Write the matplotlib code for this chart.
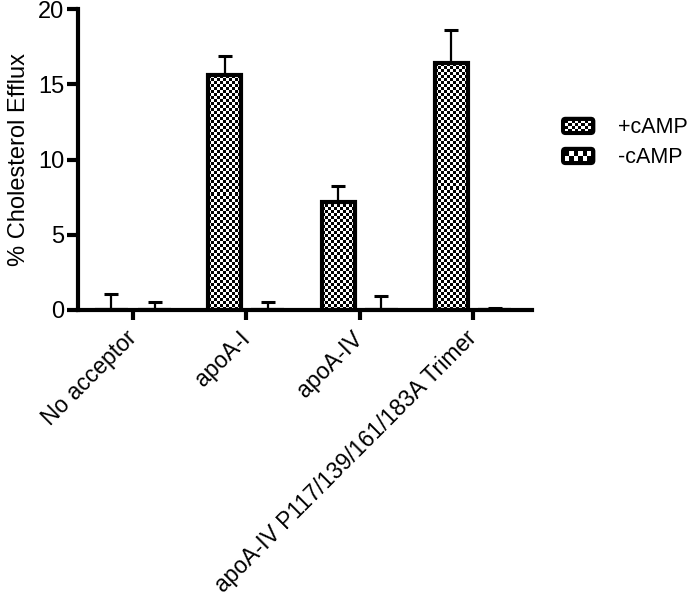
import numpy as np
import matplotlib
matplotlib.use("Agg")
import matplotlib.pyplot as plt
from matplotlib.patches import Rectangle, FancyBboxPatch, Patch
from matplotlib.legend_handler import HandlerBase

plt.rcParams["font.family"] = ["Liberation Sans", "DejaVu Sans"]
plt.rcParams["font.size"] = 17

# data
categories = ["No acceptor", "apoA-I", "apoA-IV", "apoA-IV P117/139/161/183A Trimer"]
plus_camp = [0.0, 15.6, 7.2, 16.4]
plus_err = [1.05, 1.3, 1.05, 2.25]
minus_camp = [0.0, 0.0, 0.0, 0.0]
minus_err = [0.55, 0.5, 0.95, 0.1]


class CheckerHandler(HandlerBase):
    """legend box drawn as a black rounded box with white checks"""

    def __init__(self, nx, ny):
        super().__init__()
        self.nx = nx
        self.ny = ny

    def create_artists(self, legend, orig_handle, xdescent, ydescent,
                       width, height, fontsize, trans):
        x0, y0 = -xdescent, -ydescent
        arts = [FancyBboxPatch((x0, y0), width, height,
                               boxstyle="round,pad=0,rounding_size=2.5",
                               fc="black", ec="black", lw=1.5, transform=trans)]
        m = 0.18 * height
        cw = (width - 2 * m) / self.nx
        ch = (height - 2 * m) / self.ny
        for i in range(self.nx):
            for j in range(self.ny):
                if (i + j) % 2 == 0:
                    arts.append(Rectangle((x0 + m + i * cw, y0 + m + j * ch), cw, ch,
                                          fc="white", ec="none", transform=trans))
        return arts


fig = plt.figure(figsize=(6.93, 5.96), dpi=100)
ax = fig.add_axes([0.1126, 0.48, 0.655, 0.5044])

x = np.arange(len(categories))
w = 0.29
off = 0.19

bars_p = ax.bar(x - off, plus_camp, w, facecolor="none", edgecolor="black",
                linewidth=3, zorder=3)
bars_m = ax.bar(x + off, minus_camp, w, facecolor="none", edgecolor="black",
                linewidth=3, zorder=3)

ax.errorbar(x - off, plus_camp, yerr=[np.zeros(len(x)), plus_err], fmt="none",
            ecolor="black", elinewidth=1.6, capsize=5, capthick=2.2, zorder=2)
ax.errorbar(x + off, minus_camp, yerr=[np.zeros(len(x)), minus_err], fmt="none",
            ecolor="black", elinewidth=1.6, capsize=5, capthick=2.2, zorder=2)

ax.set_xlim(-0.485, 3.52)
ax.set_ylim(0, 20)

# checkerboard fill clipped to each bar
cx = 3.0 / 113.3
cy = 3.0 / 15.05
for b in list(bars_p) + list(bars_m):
    bx, by, bw, bh = b.get_x(), b.get_y(), b.get_width(), b.get_height()
    if bh <= 0.2:
        continue
    nx = max(1, int(round(bw / cx)))
    ny = max(1, int(round(bh / cy)))
    arr = np.indices((ny, nx)).sum(axis=0) % 2
    im = ax.imshow(arr, cmap="gray", extent=[bx, bx + bw, by, by + bh],
                   interpolation="nearest", aspect="auto", zorder=2.5)
    im.set_clip_path(b)

ax.set_xlim(-0.485, 3.52)
ax.set_ylim(0, 20)

ax.set_yticks([0, 5, 10, 15, 20])
ax.set_xticks(x)
ax.set_xticklabels(categories, rotation=45, ha="right", va="center",
                   rotation_mode="anchor", fontsize=16.5)
ax.tick_params(axis="x", length=7, width=3, pad=11)
ax.tick_params(axis="y", length=8, width=3, pad=2)
ax.set_ylabel("% Cholesterol Efflux", labelpad=6)

for s in ["top", "right"]:
    ax.spines[s].set_visible(False)
for s in ["left", "bottom"]:
    ax.spines[s].set_linewidth(3)

h1 = Patch(label="+cAMP")
h2 = Patch(label="-cAMP")
fig.legend(handles=[h1, h2], labels=["+cAMP", "-cAMP"],
           handler_map={h1: CheckerHandler(8, 4), h2: CheckerHandler(6, 2)},
           loc="upper left", bbox_to_anchor=(0.811, 0.803), frameon=False,
           fontsize=15.5, handlelength=1.5, handleheight=0.78, handletextpad=1.1,
           labelspacing=0.42, borderpad=0, borderaxespad=0)

fig.savefig("out.png", dpi=100)
